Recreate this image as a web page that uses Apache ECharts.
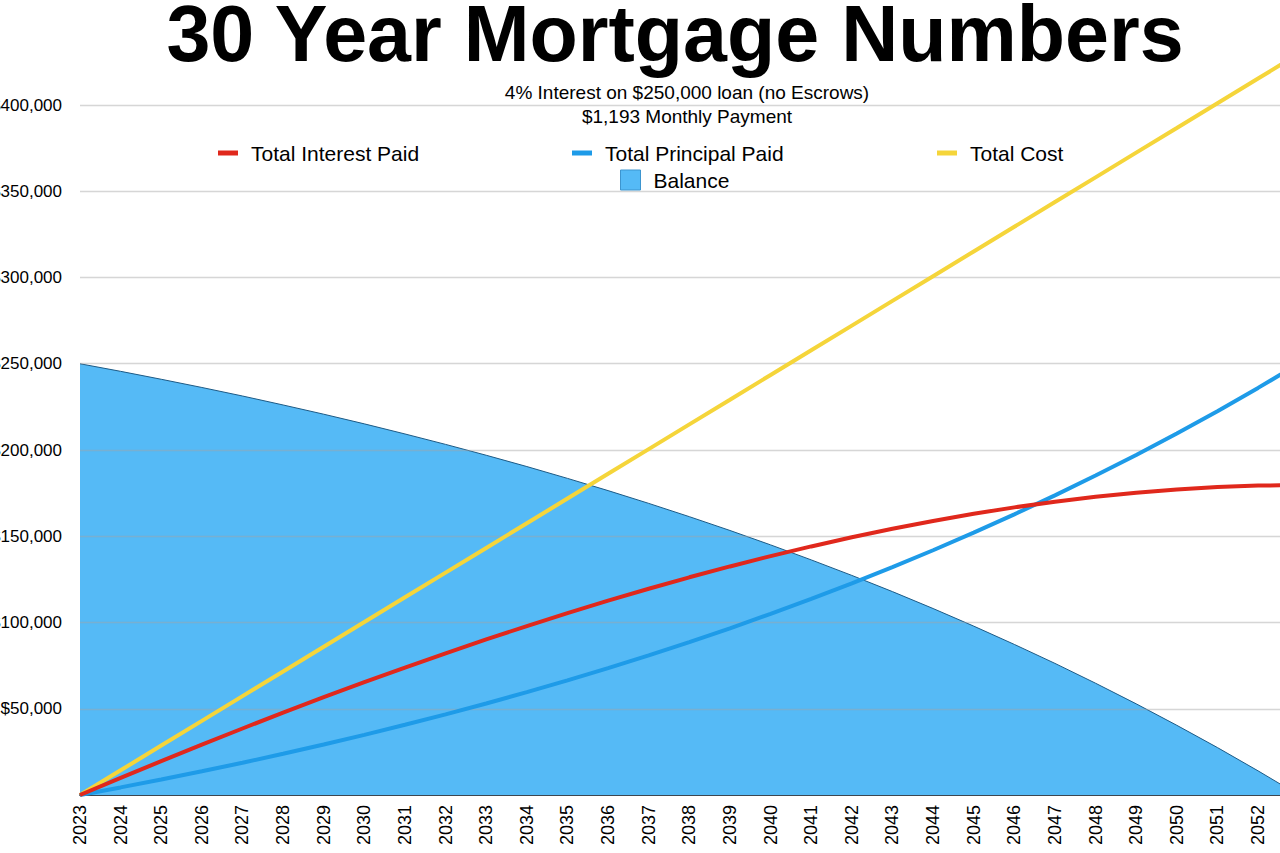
<!DOCTYPE html>
<html>
<head>
<meta charset="utf-8">
<script src="https://cdn.jsdelivr.net/npm/echarts@6/dist/echarts.min.js"></script>
<style>
html,body{margin:0;padding:0;background:#fff;}
#chart{width:1280px;height:853px;}
</style>
</head>
<body>
<div id="chart"></div>
<script>
const years = [2023,2024,2025,2026,2027,2028,2029,2030,2031,2032,2033,2034,2035,2036,2037,2038,2039,2040,2041,2042,2043,2044,2045,2046,2047,2048,2049,2050,2051,2052,2053];
const balance = [250000,245600,241000,236250,231300,226100,220750,215150,209300,203250,196950,190400,183550,176450,169050,161350,153350,145000,136300,127300,117900,108100,97900,87300,76300,64800,52850,40400,27500,14000,0];
const totalInterestPaid = [0,9900,19650,29200,38550,47750,56700,65400,73900,82150,90200,97950,105450,112650,119550,126200,132500,138500,144100,149400,154350,158850,163000,166750,170000,172850,175250,177150,178500,179350,179650];
const totalPrincipalPaid = [0,4400,9000,13750,18700,23900,29250,34850,40700,46750,53050,59600,66450,73550,80950,88650,96650,105000,113700,122700,132100,141900,152100,162700,173700,185200,197150,209600,222500,236000,250000];
const totalCost = [0,14300,28650,42950,57300,71600,85950,100250,114600,128900,143200,157550,171850,186200,200500,214850,229150,243500,257800,272100,286450,300750,315100,329400,343750,358050,372400,386700,401050,415350,429650];
const titleText = '30 Year Mortgage Numbers';
const subtitleText = '4% Interest on $250,000 loan (no Escrows)\n$1,193 Monthly Payment';
const seriesNames = ['Total Interest Paid','Total Principal Paid','Total Cost','Balance'];

const pairs = arr => years.map((y,i) => [y, arr[i]]);
const font = "'Liberation Sans', Arial, Helvetica, sans-serif";
const fmtMoney = v => '$' + String(v).replace(/\B(?=(\d{3})+(?!\d))/g, ',');

const chart = echarts.init(document.getElementById('chart'), null, {renderer:'svg', width:1280, height:853});
const legendBase = {
  padding: 0, icon: 'rect', itemWidth: 20, itemHeight: 5,
  textStyle: {fontFamily: font, fontSize: 21, color: '#000', lineHeight: 24, padding: [0,0,0,8]},
  selectedMode: false
};
chart.setOption({
  backgroundColor: '#fff',
  animation: false,
  title: [
    {text: titleText, left: 675, top: 0, textAlign: 'center', padding: 0,
     textStyle: {fontFamily: font, fontSize: 79, fontWeight: 'bold', color: '#000', lineHeight: 66}},
    {text: subtitleText, left: 687, top: 80, textAlign: 'center', padding: 0,
     textStyle: {fontFamily: font, fontSize: 19, fontWeight: 'normal', color: '#000', lineHeight: 24.5}}
  ],
  legend: [
    Object.assign({}, legendBase, {data: [seriesNames[0]], left: 218, top: 141}),
    Object.assign({}, legendBase, {data: [seriesNames[1]], left: 572, top: 141}),
    Object.assign({}, legendBase, {data: [seriesNames[2]], left: 937, top: 141}),
    Object.assign({}, legendBase, {data: [seriesNames[3]], left: 620, top: 168, itemWidth: 20, itemHeight: 20,
      itemStyle: {borderColor: '#3d95cf', borderWidth: 1}})
  ],
  grid: {left: 80, right: 0, top: 36, bottom: 58, containLabel: false, outerBoundsMode: 'none'},
  xAxis: {
    type: 'value', min: 2023, max: 2052.54, interval: 1,
    axisLine: {show: true, lineStyle: {color: '#3c4650', width: 2}},
    axisTick: {show: false},
    splitLine: {show: false},
    axisLabel: {rotate: 90, margin: 10, fontFamily: font, fontSize: 18, color: '#000',
      showMaxLabel: false,
      formatter: v => Number.isInteger(v) ? String(v) : ''}
  },
  yAxis: {
    type: 'value', min: 0, max: 440000, interval: 50000, z: 3,
    axisLine: {show: false}, axisTick: {show: false},
    splitLine: {show: true, showMaxLine: false, showMinLine: false, lineStyle: {color: 'rgba(165,165,165,0.45)', width: 1.3}},
    axisLabel: {margin: 18, fontFamily: font, fontSize: 17, color: '#000',
      formatter: v => (v > 0 && v % 50000 === 0) ? fmtMoney(v) : ''}
  },
  series: [
    {name: seriesNames[3], type: 'line', data: pairs(balance), showSymbol: false, z: 2,
     color: '#55baf6',
     lineStyle: {color: '#1d5a85', width: 1},
     areaStyle: {color: '#55baf6', opacity: 1}},
    {name: seriesNames[2], type: 'line', data: pairs(totalCost), showSymbol: false, z: 5,
     color: '#f5d53a', lineStyle: {color: '#f5d53a', width: 4}},
    {name: seriesNames[1], type: 'line', data: pairs(totalPrincipalPaid), showSymbol: false, z: 5,
     color: '#1e9be8', lineStyle: {color: '#1e9be8', width: 4}},
    {name: seriesNames[0], type: 'line', data: pairs(totalInterestPaid), showSymbol: false, z: 5,
     color: '#e0281c', lineStyle: {color: '#e0281c', width: 4}}
  ]
});
</script>
</body>
</html>
